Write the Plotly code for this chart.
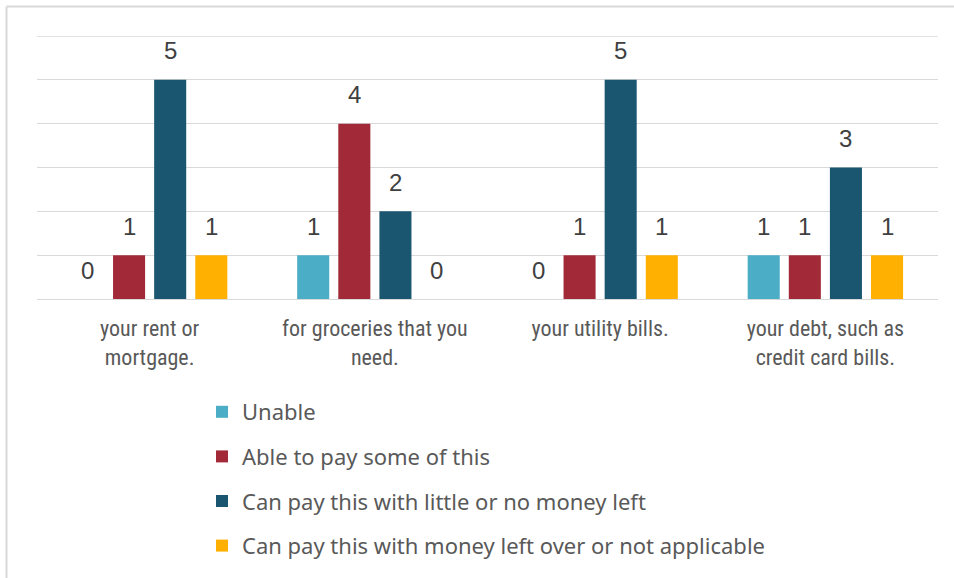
import plotly.graph_objects as go

categories = [
    "your rent or<br>mortgage.",
    "for groceries that you<br>need.",
    "your utility bills.",
    "your debt, such as<br>credit card bills.",
]
series_names = [
    "Unable",
    "Able to pay some of this",
    "Can pay this with little or no money left",
    "Can pay this with money left over or not applicable",
]
unable = [0, 1, 0, 1]
some = [1, 4, 1, 1]
little_left = [5, 2, 5, 3]
money_left = [1, 0, 1, 1]
series_values = [unable, some, little_left, money_left]
colors = ["#4BADC6", "#A22A38", "#1A5670", "#FFB000"]
y_max = 6

W, H = 954, 578
ML, MR, MT, MB = 37, 16, 36, 279
PW, PH = W - ML - MR, H - MT - MB
BARGAP, BARGROUPGAP = 0.27, 0.22
GRID = "#D9D9D9"


def px_x(x):
    return (x - ML) / PW


def px_y(y):
    return (H - MB - y) / PH


fig = go.Figure()
n = len(series_names)
slot_px = (PW / len(categories)) * (1 - BARGAP) / n
annotations = []
for i, (name, vals, col) in enumerate(zip(series_names, series_values, colors)):
    fig.add_trace(go.Bar(
        name=name,
        x=categories,
        y=vals,
        marker=dict(color=col, line=dict(width=0)),
        legendgroup=f"g{i}",
    ))
    # value labels sit a fixed distance above each bar
    for cat, v in zip(categories, vals):
        annotations.append(dict(
            x=cat, y=v, xref="x", yref="y",
            text=str(v), showarrow=False,
            xshift=(i - (n - 1) / 2) * slot_px, yshift=29,
            xanchor="center", yanchor="middle",
            font=dict(family="Liberation Sans, Arial, sans-serif", size=24, color="#404040"),
        ))

fig.update_layout(
    width=W, height=H,
    margin=dict(l=ML, r=MR, t=MT, b=MB, autoexpand=False),
    paper_bgcolor="white",
    plot_bgcolor="white",
    barmode="group",
    bargap=BARGAP,
    bargroupgap=BARGROUPGAP,
    xaxis=dict(
        showgrid=False,
        showline=False,
        ticks="outside",
        ticklen=10,
        tickcolor="rgba(0,0,0,0)",
        tickfont=dict(family="Liberation Sans Narrow, Roboto Condensed, Arial Narrow, sans-serif",
                      size=22, color="#595959"),
    ),
    yaxis=dict(
        range=[0, y_max],
        dtick=1,
        showticklabels=False,
        showgrid=True,
        gridcolor=GRID,
        gridwidth=1.4,
        zeroline=True,
        zerolinecolor=GRID,
        zerolinewidth=1.4,
        showline=False,
        ticks="",
    ),
    showlegend=True,
    legend=dict(
        orientation="v",
        x=px_x(202), xanchor="left",
        y=px_y(391), yanchor="top",
        traceorder="grouped",
        tracegroupgap=13,
        itemwidth=30,
        font=dict(family="Noto Sans, Open Sans, sans-serif", size=22, color="#595959"),
        bgcolor="rgba(0,0,0,0)",
    ),
    annotations=annotations,
    shapes=[
        # top gridline at the axis maximum
        dict(type="line", xref="paper", yref="y",
             x0=0, x1=1, y0=y_max, y1=y_max,
             line=dict(color=GRID, width=1.4)),
        # chart frame: top and left edges
        dict(type="line", xref="paper", yref="paper",
             x0=px_x(6.5), x1=px_x(W), y0=px_y(6.5), y1=px_y(6.5),
             line=dict(color=GRID, width=2)),
        dict(type="line", xref="paper", yref="paper",
             x0=px_x(6.5), x1=px_x(6.5), y0=px_y(6.5), y1=px_y(H),
             line=dict(color=GRID, width=2)),
    ],
)

fig.write_html("out.html")
